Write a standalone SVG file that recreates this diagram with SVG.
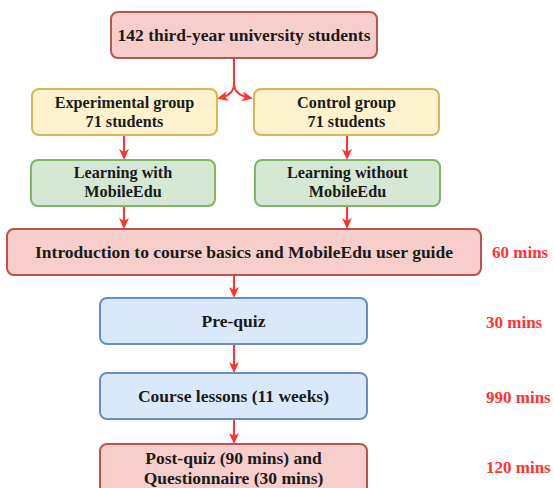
<svg xmlns="http://www.w3.org/2000/svg" width="554" height="488" viewBox="0 0 554 488">
<style>
text{font-family:'Liberation Serif','Times New Roman','DejaVu Serif',serif;font-weight:700;font-size:17.5px;fill:#1a1a1a;text-anchor:middle;dominant-baseline:central}
.s{font-size:16.2px}
.t{fill:#FF3333;text-anchor:start;font-size:17px}
.pink{fill:#f8cecc;stroke:#b85450;stroke-width:2}
.yel{fill:#fff2cc;stroke:#d6b656;stroke-width:2}
.grn{fill:#d5e8d4;stroke:#82b366;stroke-width:2}
.blu{fill:#dae8fc;stroke:#6c8ebf;stroke-width:2}
.e{fill:none;stroke:#FF3333;stroke-width:2;marker-end:url(#a)}
</style>
<defs>
<marker id="a" markerUnits="userSpaceOnUse" markerWidth="12" markerHeight="12" viewBox="0 0 12 12" refX="8" refY="6" orient="auto">
<path d="M0,1 L11,6 L0,11 L3,6 z" fill="#FF3333"/>
</marker>
</defs>
<g id="edges">
<path class="e" d="M234,58 L234,84 C234,92 228,96 220,98"/>
<path class="e" d="M234,84 C234,92 240,96 250,98"/>
<path class="e" d="M124,136 L124,157"/>
<path class="e" d="M347,136 L347,157"/>
<path class="e" d="M124,206 L124,226"/>
<path class="e" d="M347,206 L347,226"/>
<path class="e" d="M234,275 L234,295"/>
<path class="e" d="M234,344 L234,370"/>
<path class="e" d="M234,419 L234,441"/>
</g>
<g id="n1"><rect class="pink" x="111" y="12" width="266" height="46" rx="7"/><text x="244" y="35">142 third-year university students</text></g>
<g id="n2"><rect class="yel" x="32" y="89" width="185" height="46" rx="7"/><text class="s" x="124.5" y="103">Experimental group</text><text class="s" x="124.5" y="122">71 students</text></g>
<g id="n3"><rect class="yel" x="254" y="89" width="185" height="46" rx="7"/><text class="s" x="346.5" y="103">Control group</text><text class="s" x="346.5" y="122">71 students</text></g>
<g id="n4"><rect class="grn" x="31" y="160" width="184" height="46" rx="7"/><text class="s" x="123" y="173">Learning with</text><text class="s" x="123" y="192">MobileEdu</text></g>
<g id="n5"><rect class="grn" x="255" y="160" width="185" height="46" rx="7"/><text class="s" x="347.5" y="173">Learning without</text><text class="s" x="347.5" y="192">MobileEdu</text></g>
<g id="n6"><rect class="pink" x="7" y="229" width="474" height="46" rx="7"/><text x="244" y="252">Introduction to course basics and MobileEdu user guide</text></g>
<g id="n7"><rect class="blu" x="100" y="298" width="267" height="46" rx="7"/><text x="233.5" y="321">Pre-quiz</text></g>
<g id="n8"><rect class="blu" x="100" y="373" width="267" height="46" rx="7"/><text x="233.5" y="396">Course lessons (11 weeks)</text></g>
<g id="n9"><rect class="pink" x="100" y="444" width="267" height="50" rx="7"/><text x="233.5" y="458">Post-quiz (90 mins) and</text><text x="233.5" y="478">Questionnaire (30 mins)</text></g>
<g id="labels">
<text class="t" x="492" y="252">60 mins</text>
<text class="t" x="486" y="322">30 mins</text>
<text class="t" x="486" y="397">990 mins</text>
<text class="t" x="486" y="467">120 mins</text>
</g>
</svg>
